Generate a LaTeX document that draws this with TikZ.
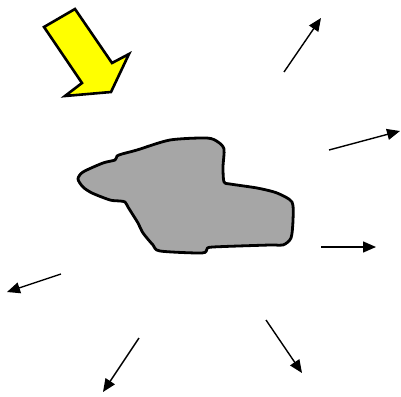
\documentclass[tikz,border=0pt]{standalone}
\usetikzlibrary{arrows.meta}
\definecolor{blobgray}{RGB}{166,166,166}
\definecolor{arrowyellow}{RGB}{255,255,0}
\begin{document}
\begin{tikzpicture}[x=1pt,y=-1pt,
  ray/.style={line width=1.4pt,-{Triangle[length=13pt,width=11pt]}},
  blob/.style={draw=black,line width=2.8pt,fill=blobgray,line join=round},
  bigarrow/.style={draw=black,line width=2.6pt,fill=arrowyellow,line join=miter}]
\useasboundingbox (0,0) rectangle (401,396);
% yellow arrow
\draw[bigarrow] (44,27) -- (75,9) -- (112,63) -- (129,54) -- (111,92) -- (65,96) -- (82,83) -- cycle;
% blob
\draw[blob] plot[smooth cycle,tension=0.45] coordinates {
 (78,179) (83,172) (103,163) (115,160) (117,156) (122,154) (137,150) (170,140)
 (207,138) (218,142) (224,149) (223,167) (224,182) (230,184) (257,188) (277,193)
 (292,202) (293,220) (291,238) (283,245) (270,245) (213,247) (207,249) (202,253)
 (160,251) (153,245) (143,233) (138,223) (133,215) (128,207) (125,202) (120,201)
 (110,200) (92,193) (83,187)};
% rays
\coordinate (s1) at (284,72);  \coordinate (t1) at (321,18);
\coordinate (s2) at (329,150); \coordinate (t2) at (400,131);
\coordinate (s3) at (321,247); \coordinate (t3) at (376,247);
\coordinate (s4) at (266,320); \coordinate (t4) at (302,373);
\coordinate (s5) at (139,338); \coordinate (t5) at (103,392);
\coordinate (s6) at (61,274);  \coordinate (t6) at (7,292);
\foreach \i in {1,...,6} \draw[ray] (s\i) -- (t\i);
\end{tikzpicture}
\end{document}
